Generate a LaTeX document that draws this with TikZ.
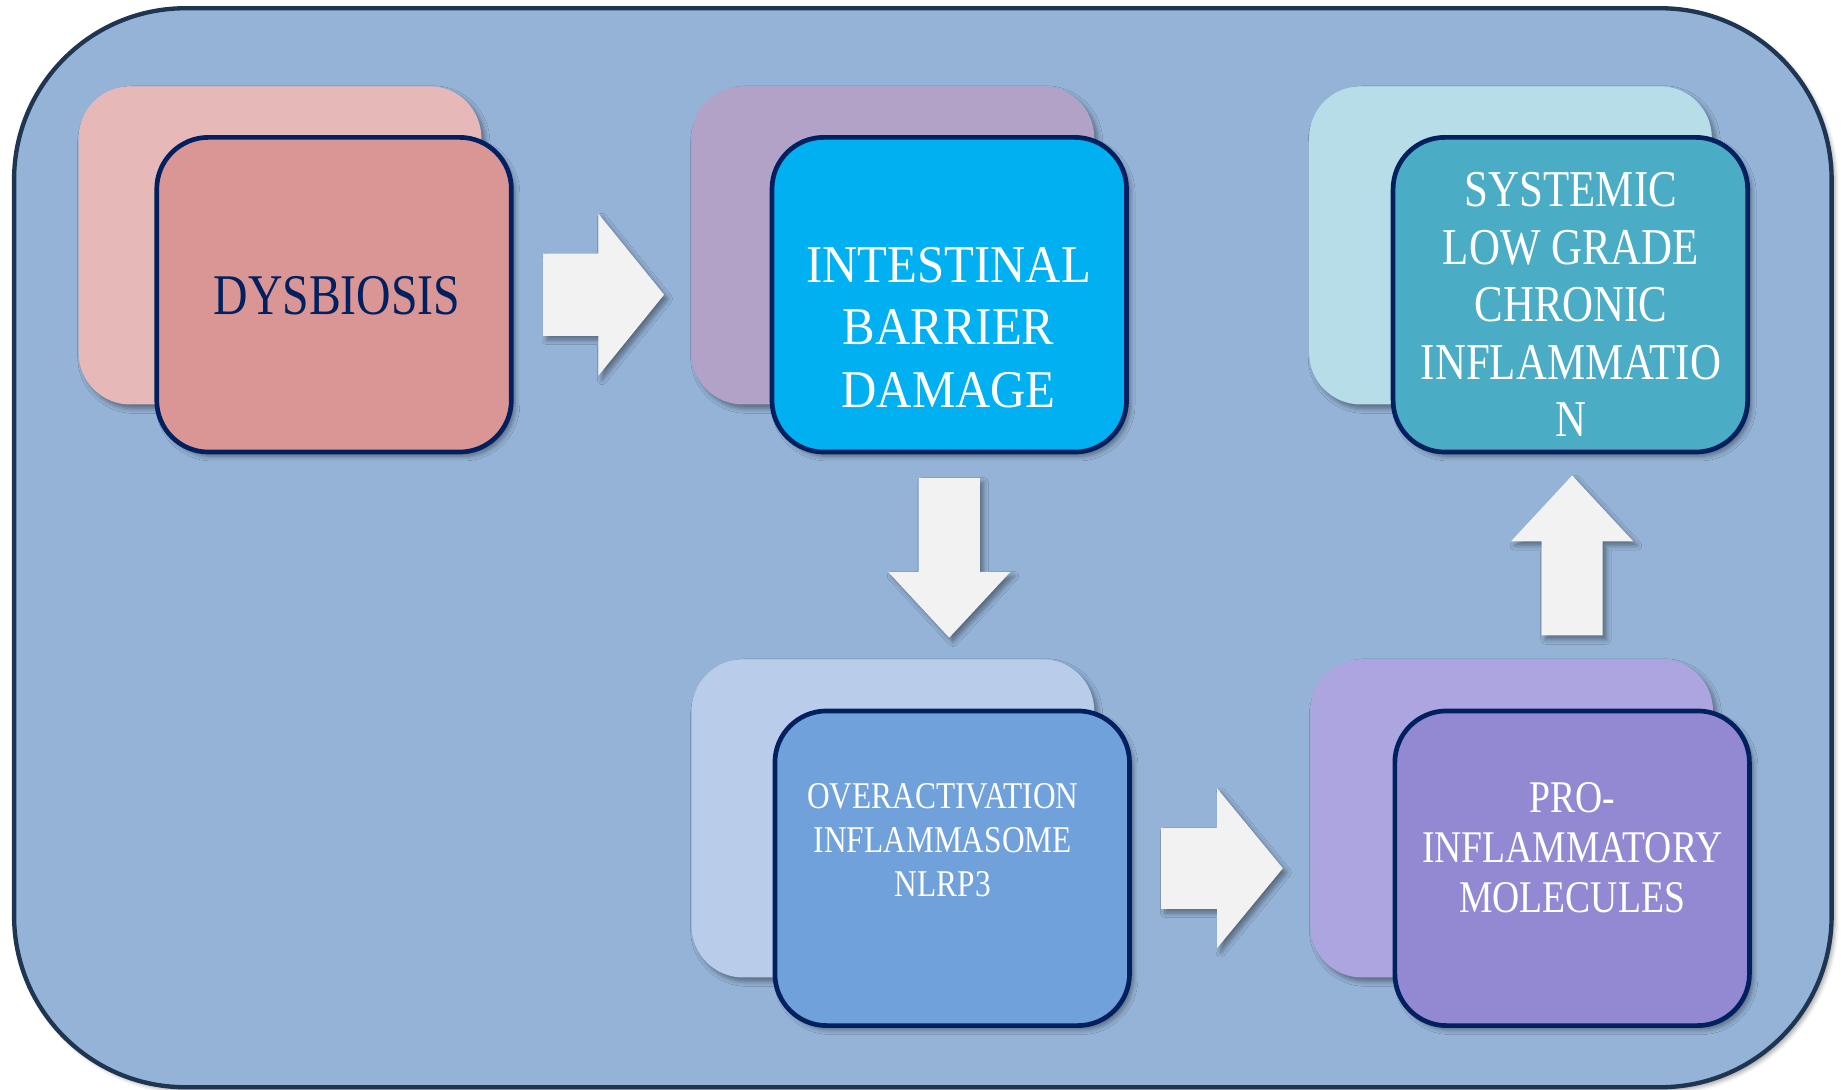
\documentclass[tikz,border=0pt]{standalone}
\usepackage{fontspec}
\newfontfamily\capsfont[FakeStretch=0.83]{Liberation Serif}
\newfontfamily\capsfontwide[FakeStretch=0.92]{Liberation Serif}
\usetikzlibrary{calc,shadows.blur}
\definecolor{outerfill}{HTML}{95B3D7}
\definecolor{outerline}{HTML}{1F3652}
\definecolor{navy}{HTML}{002060}
\definecolor{dysback}{HTML}{E6B9B8}
\definecolor{dysfront}{HTML}{D99694}
\definecolor{ibdback}{HTML}{B3A2C7}
\definecolor{ibdfront}{HTML}{00B0F0}
\definecolor{sysback}{HTML}{B7DEE8}
\definecolor{sysfront}{HTML}{4BACC6}
\definecolor{ovback}{HTML}{B9CDEB}
\definecolor{ovfront}{HTML}{70A1DB}
\definecolor{proback}{HTML}{ACA5DF}
\definecolor{profront}{HTML}{9389D3}
\definecolor{arrowgray}{HTML}{F2F2F2}
\begin{document}
\begin{tikzpicture}[x=0.5pt,y=-0.5pt,
  softshadow/.style={blur shadow={shadow xshift=1.6pt, shadow yshift=-1.8pt, shadow opacity=40, shadow blur steps=6, shadow blur radius=2pt}},
  backbox/.style={rounded corners=22pt, minimum width=171.5pt, minimum height=135.5pt, inner sep=0pt, fill=#1, softshadow},
  frontbox/.style={rounded corners=22pt, minimum width=151pt, minimum height=134pt, inner sep=0pt, fill=#1, draw=navy, line width=2pt, softshadow},
  boxtext/.style={align=center, text=white, inner sep=0pt},
  blockarr/.style={fill=arrowgray, softshadow}
]
\useasboundingbox (0,0) rectangle (1568,928);
% outer panel
\draw[fill=outerfill, draw=outerline, line width=1.85pt, rounded corners=73pt, blur shadow={shadow xshift=1.5pt, shadow yshift=-1.5pt, shadow opacity=35}] (12,7) rectangle (1560,926);

% boxes
\node[backbox=dysback] (dysb) at (238.5,209) {};
\node[frontbox=dysfront] (dys) at (284.5,251) {};
\node[backbox=ibdback] (ibdb) at (760.5,209) {};
\node[frontbox=ibdfront] (ibd) at (808.5,251) {};
\node[backbox=sysback] (sysb) at (1286.5,209) {};
\node[frontbox=sysfront] (sys) at (1337.5,251) {};
\node[backbox=ovback] (ovb) at (760.5,697) {};
\node[frontbox=ovfront] (ov) at (811,739.5) {};
\node[backbox=proback] (prob) at (1287.5,697) {};
\node[frontbox=profront] (pro) at (1339,739.5) {};

% texts
\node[boxtext, text=navy, font=\capsfont\fontsize{24.5pt}{28pt}\selectfont] (dyst) at (287,252) {DYSBIOSIS};
\node[boxtext, font=\capsfontwide\fontsize{22.6pt}{26.5pt}\selectfont] (ibdt) at (808,279) {INTESTINAL\\BARRIER\\DAMAGE};
\node[boxtext, font=\capsfont\fontsize{22pt}{24.5pt}\selectfont] (syst) at (1338,259.5) {SYSTEMIC\\LOW GRADE\\CHRONIC\\INFLAMMATIO\\N};
\node[boxtext, font=\capsfont\fontsize{16.1pt}{18.75pt}\selectfont] (ovt) at (803,715.5) {OVERACTIVATION\\INFLAMMASOME\\NLRP3};
\node[boxtext, font=\capsfont\fontsize{19.3pt}{21.5pt}\selectfont] (prot) at (1339,722) {PRO-\\INFLAMMATORY\\MOLECULES};

% block arrows
\fill[blockarr] let \p1=([xshift=12.5pt]dys.east), \p2=([xshift=-11.5pt]ibdb.west) in
  (\x1,\y1+17.5pt) -- (\x2-28pt,\y1+17.5pt) -- (\x2-28pt,\y1+34.5pt) -- (\x2,\y1)
  -- (\x2-28pt,\y1-34.5pt) -- (\x2-28pt,\y1-17.5pt) -- (\x1,\y1-17.5pt) -- cycle;
\fill[blockarr] let \p1=([yshift=-10pt]ibd.south), \p2=([yshift=9pt]ovb.north) in
  (\x1-13pt,\y1) -- (\x1-13pt,\y2+28pt) -- (\x1-26pt,\y2+28pt) -- (\x1,\y2)
  -- (\x1+26pt,\y2+28pt) -- (\x1+13pt,\y2+28pt) -- (\x1+13pt,\y1) -- cycle;
\fill[blockarr] let \p1=([xshift=12.5pt]ov.east), \p2=([xshift=-11.5pt]prob.west) in
  (\x1,\y1+17.25pt) -- (\x2-28pt,\y1+17.25pt) -- (\x2-28pt,\y1+34pt) -- (\x2,\y1)
  -- (\x2-28pt,\y1-34pt) -- (\x2-28pt,\y1-17.25pt) -- (\x1,\y1-17.25pt) -- cycle;
\fill[blockarr] let \p1=([yshift=10pt]prob.north), \p2=([yshift=-9pt]sys.south), \p3=(pro.center) in
  (\x3-13pt,\y1) -- (\x3-13pt,\y2-28pt) -- (\x3-26pt,\y2-28pt) -- (\x3,\y2)
  -- (\x3+26pt,\y2-28pt) -- (\x3+13pt,\y2-28pt) -- (\x3+13pt,\y1) -- cycle;
\end{tikzpicture}
\end{document}
